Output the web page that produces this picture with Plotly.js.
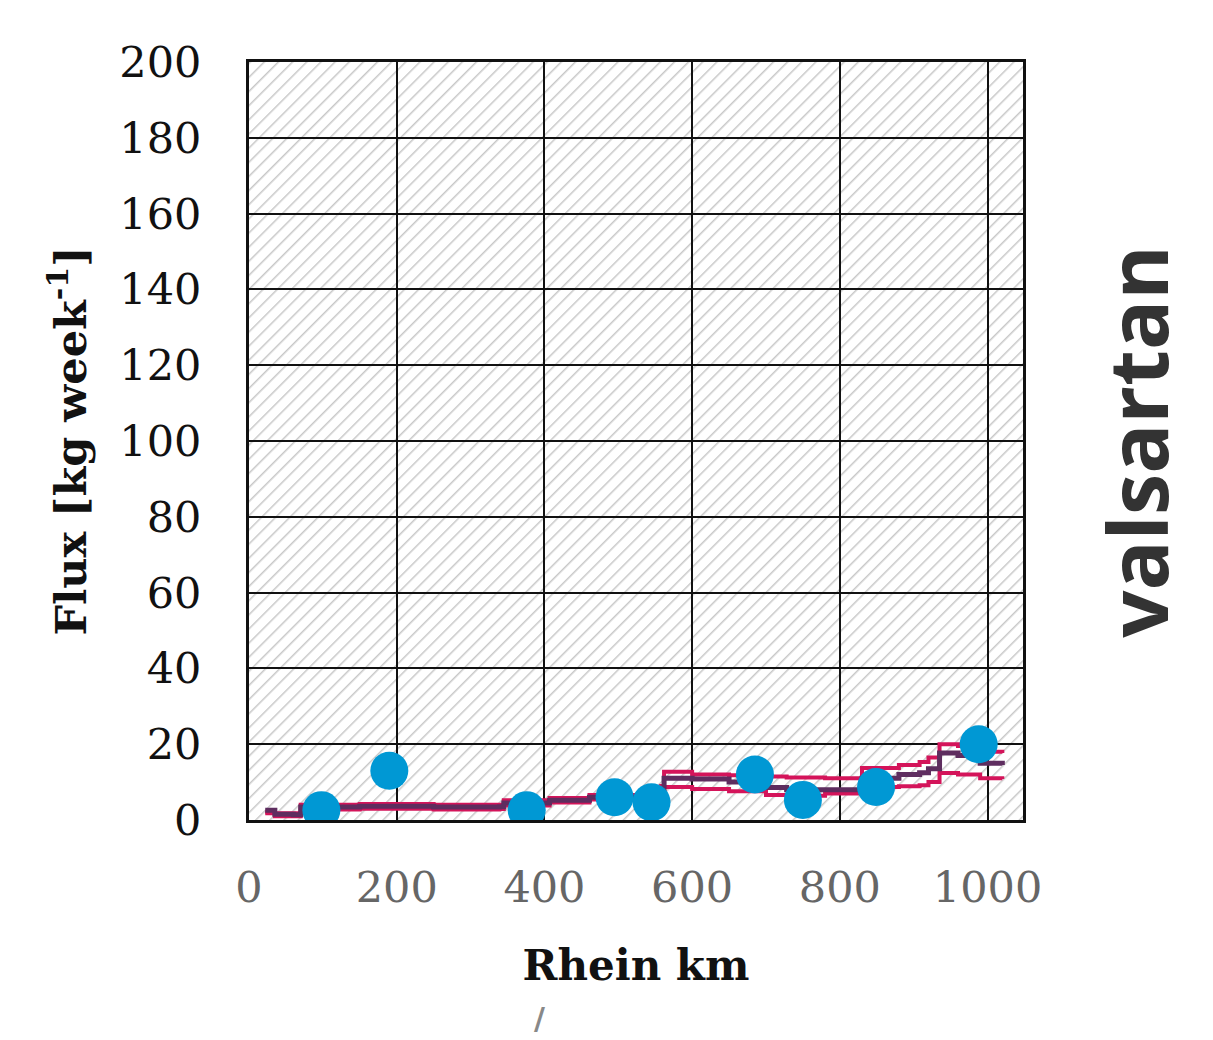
<!DOCTYPE html>
<html>
<head>
<meta charset="utf-8">
<script src="https://cdn.plot.ly/plotly-3.0.1.min.js"></script>
<style>html,body{margin:0;padding:0;background:#fff;}</style>
</head>
<body>
<div id="chart" style="width:1213px;height:1040px;"></div>
<script>
// Measured points (blue dots)
const measKm   = [98, 190, 376, 495, 545, 685, 750, 849, 988];
const measFlux = [2.6, 13, 2.6, 6, 4.7, 12, 5.3, 8.7, 20];

// Modelled flux (purple) along Rhein km
const modelKm    = [22, 35, 60, 70, 150, 250, 339, 345, 407, 461, 545, 558, 562, 600, 650, 700, 728, 780, 826, 830, 880, 908, 920, 935, 960, 990, 1020];
const modelFlux  = [2.6, 1.5, 1.4, 3.4, 3.6, 3.4, 3.5, 4.5, 5.2, 6.0, 7.6, 8.0, 11, 10.8, 10, 8.6, 8.0, 8.0, 8.0, 11.0, 12.0, 12.5, 13.5, 17.7, 17.0, 15.0, 14.5];
// Upper bound (red)
const upperFlux  = [2.2, 1.8, 1.8, 4.0, 4.2, 4.0, 4.0, 5.2, 5.8, 6.6, 8.6, 9.0, 12.7, 12.0, 11.8, 11.5, 11.2, 11.0, 11.0, 13.7, 14.5, 15.3, 16.5, 20.0, 19.5, 18.0, 17.7];
// Lower bound (red)
const lowerFlux  = [1.8, 1.0, 1.0, 2.8, 3.0, 2.8, 2.9, 3.8, 4.6, 5.4, 7.4, 7.6, 8.7, 8.2, 7.6, 6.6, 6.4, 7.0, 7.4, 8.7, 8.9, 9.2, 10.0, 12.4, 12.0, 11.0, 10.8];

const xTicks = [0, 200, 400, 600, 800, 1000];
const yTicks = [0, 20, 40, 60, 80, 100, 120, 140, 160, 180, 200];

const red = '#d4145a';
const purple = '#5e2d5f';
const blue = '#0098d4';

const hatchSvg = (function(){
  const w = 774, h = 758;
  const s = '<svg xmlns="http://www.w3.org/2000/svg" width="'+w+'" height="'+h+'">' +
    '<defs><pattern id="p" patternUnits="userSpaceOnUse" width="10" height="10" patternTransform="rotate(45)">' +
    '<line x1="0" y1="0" x2="0" y2="10" stroke="#c8c8c8" stroke-width="3"/></pattern></defs>' +
    '<rect width="'+w+'" height="'+h+'" fill="#ffffff"/>' +
    '<rect width="'+w+'" height="'+h+'" fill="url(#p)"/></svg>';
  return 'data:image/svg+xml;base64,' + btoa(s);
})();

const traces = [
  {x: modelKm, y: upperFlux, mode: 'lines', line: {color: red, width: 4, shape: 'hv'}, hoverinfo: 'skip'},
  {x: modelKm, y: lowerFlux, mode: 'lines', line: {color: red, width: 4, shape: 'hv'}, hoverinfo: 'skip'},
  {x: modelKm, y: modelFlux, mode: 'lines', line: {color: purple, width: 5, shape: 'hv'}, hoverinfo: 'skip'},
  {x: measKm, y: measFlux, mode: 'markers', marker: {color: blue, size: 38, line: {width: 0}}}
];

const layout = {
  width: 1213, height: 1040,
  margin: {l: 249, r: 190, t: 62, b: 220},
  paper_bgcolor: '#ffffff',
  plot_bgcolor: 'rgba(0,0,0,0)',
  showlegend: false,
  font: {family: 'DejaVu Serif', color: '#000'},
  xaxis: {
    range: [0, 1048], tickvals: xTicks, ticktext: xTicks.map(String),
    showgrid: true, gridcolor: '#111', gridwidth: 2, zeroline: false,
    showline: true, linecolor: '#111', linewidth: 3, mirror: true,
    ticks: '', ticklabelstandoff: 27,
    tickfont: {family: 'DejaVu Serif', size: 43, color: '#666'},
    title: {text: '<b>Rhein km</b>', font: {family: 'DejaVu Serif', size: 42, color: '#111'}, standoff: 41}
  },
  yaxis: {
    range: [0, 200], tickvals: yTicks, ticktext: yTicks.map(String),
    showgrid: true, gridcolor: '#111', gridwidth: 2, zeroline: false,
    showline: true, linecolor: '#111', linewidth: 3, mirror: true,
    ticks: '', ticklabelstandoff: 36,
    tickfont: {family: 'DejaVu Serif', size: 43, color: '#111'},
    title: {text: '<b>Flux [kg week<sup>-1</sup>]</b>', font: {family: 'DejaVu Serif', size: 43, color: '#111'}, standoff: 20}
  },
  images: [{
    source: hatchSvg, xref: 'paper', yref: 'paper', x: 0, y: 1,
    sizex: 1, sizey: 1, sizing: 'stretch', layer: 'below', xanchor: 'left', yanchor: 'top'
  }],
  annotations: [
    {text: '<b>valsartan</b>', xref: 'paper', yref: 'paper', x: 1.146, y: 0.499, textangle: -90,
     showarrow: false, font: {family: 'Open Sans', size: 83, color: '#333'}, xanchor: 'center', yanchor: 'middle'},
    {text: '<b>/</b>', xref: 'paper', yref: 'paper', x: 0.375, y: -0.262, showarrow: false,
     xanchor: 'center', yanchor: 'middle',
     font: {family: 'DejaVu Sans', size: 30, color: '#888'}}
  ]
};

Plotly.newPlot('chart', traces, layout, {displayModeBar: false, staticPlot: true});
</script>
</body>
</html>
